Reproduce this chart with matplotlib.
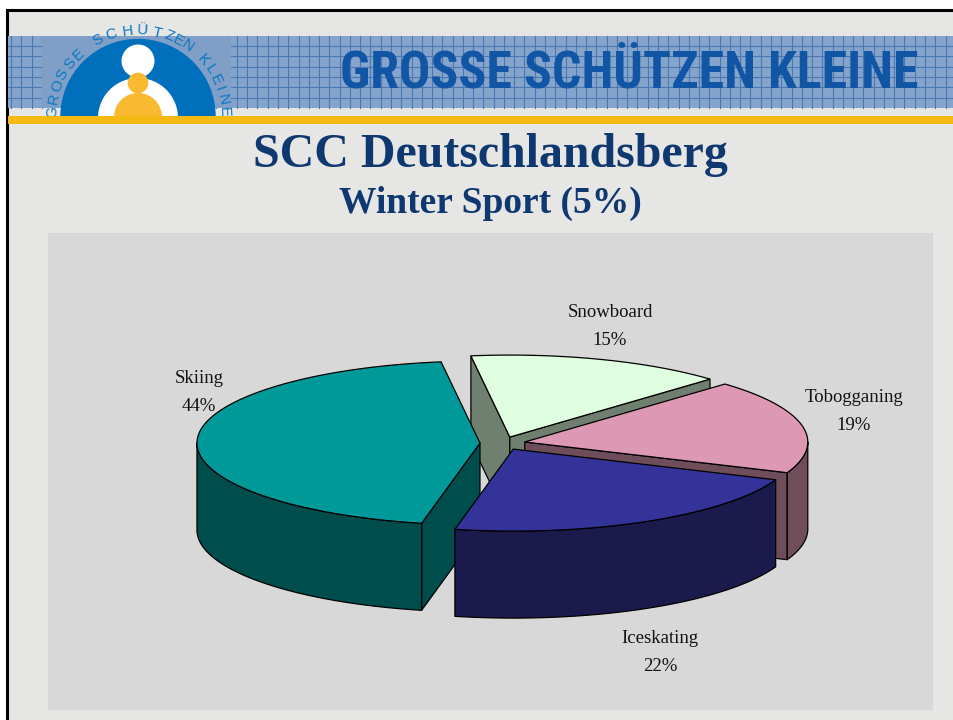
import numpy as np
import matplotlib
matplotlib.use('Agg')
import matplotlib.pyplot as plt
from matplotlib.patches import Circle, Polygon, Rectangle

# chart data, in the order it goes round the pie (clockwise)
slices = ['Snowboard', 'Tobogganing', 'Iceskating', 'Skiing']
shares = [14.7, 18.6, 22.2, 44.5]
shown_pct = ['15%', '19%', '22%', '44%']

top_colors = ['#e0ffe0', '#dd99b3', '#333399', '#009999']
wall_colors = ['#708070', '#6f4d5a', '#1a1a4d', '#004d4d']
label_pos = [(610, 326.5), (854, 411.5), (660, 652.5), (199, 392.5)]

header = 'GROSSE SCHÜTZEN KLEINE'
logo_letters = list('GROSSE') + list('SCHÜTZEN') + list('KLEINE')
logo_angles = [-87, -78, -69, -61, -52, -44,
               -28, -18, -7, 3, 13, 21, 28, 35,
               49, 57, 65, 71, 79, 87]

# pie geometry in pixels
cx, cy = 502.6, 443.3
rx, ry = 283, 82
depth = 87
explode = 0.08
start_angle = -7.9
draw_order = [0, 1, 3, 2]

fig = plt.figure(figsize=(9.54, 7.2), dpi=100, facecolor='white')
ax = fig.add_axes([0, 0, 1, 1])
ax.set_xlim(0, 954)
ax.set_ylim(720, 0)
ax.axis('off')

# slide background and border
ax.add_patch(Rectangle((7, 10), 950, 712, fc='#e6e6e4', ec='black', lw=2.2, zorder=1))

# checked header band
ax.add_patch(Rectangle((8, 36), 946, 72, fc='#85a4cb', ec='none', zorder=2))
for x in np.arange(11, 954, 10.27):
    ax.plot([x, x], [36, 108], color='#4a78b5', lw=0.8, zorder=3)
for y in np.arange(46, 108, 10.35):
    ax.plot([8, 954], [y, y], color='#4a78b5', lw=0.8, zorder=3)
ax.add_patch(Rectangle((42, 36), 189, 72, fc='#7f9fc8', ec='none', zorder=4))
ax.add_patch(Rectangle((8, 116), 946, 8, fc='#f5b914', ec='none', zorder=9))

# logo, cut off at the gold strip
clip = Rectangle((30, 20), 220, 96, transform=ax.transData)
logo = [Circle((138, 116.5), 77.7, fc='#0070bd', ec='none', zorder=5),
        Circle((138, 118), 40, fc='white', ec='none', zorder=6),
        Circle((138, 61), 16.5, fc='white', ec='none', zorder=6),
        Circle((138, 83), 10.3, fc='#f9b931', ec='none', zorder=7),
        Circle((138, 117), 24, fc='#f9b931', ec='none', zorder=7)]
for p in logo:
    ax.add_patch(p)
    p.set_clip_path(clip)
for ch, ang in zip(logo_letters, logo_angles):
    t = np.radians(ang)
    txt = ax.text(138 + 86 * np.sin(t), 116.5 - 86 * np.cos(t), ch, rotation=-ang,
                  rotation_mode='anchor', ha='center', va='center', fontsize=11,
                  family='Liberation Sans', color='#0a78c0', zorder=8)
    txt.set_clip_path(clip)

# titles
ax.text(629.5, 74, header, ha='center', va='center', fontsize=37.4, fontweight='bold',
        family=['Roboto Condensed', 'Roboto'], color='#1155a5', zorder=8)
ax.text(490, 155, 'SCC Deutschlandsberg', ha='center', va='center', fontsize=34.5,
        fontweight='bold', family='Liberation Serif', color='#0f3870', zorder=8)
ax.text(490, 203, 'Winter Sport (5%)', ha='center', va='center', fontsize=27,
        fontweight='bold', family='Liberation Serif', color='#0f3870', zorder=8)

# plot area
ax.add_patch(Rectangle((48, 233), 885, 477, fc='#d8d8d8', ec='none', zorder=2))


def rim(x0, y0, a0, a1):
    t = np.radians(np.linspace(a0, a1, 200))
    return x0 + rx * np.sin(t), y0 - ry * np.cos(t)


# angles come from the shares
edges = start_angle + np.cumsum([0] + shares) * 3.6

zo = 10
for i in draw_order:
    a0, a1 = edges[i], edges[i + 1]
    mid = np.radians((a0 + a1) / 2)
    x0 = cx + explode * rx * np.sin(mid)
    y0 = cy - explode * ry * np.cos(mid)
    style = dict(fc=wall_colors[i], ec='black', lw=0.9, joinstyle='round')

    # straight cut faces, only those turned towards the viewer
    for edge, normal in ((a0, a0 - 90), (a1, a1 + 90)):
        if np.cos(np.radians(normal)) < 0:
            ex, ey = rim(x0, y0, edge, edge)
            quad = [(x0, y0), (ex[0], ey[0]), (ex[0], ey[0] + depth), (x0, y0 + depth)]
            ax.add_patch(Polygon(quad, zorder=zo, **style))
            zo += 1

    # outer rim, front half only
    for lo, hi in ((90, 270), (450, 630)):
        f0, f1 = max(a0, lo), min(a1, hi)
        if f1 > f0:
            fx, fy = rim(x0, y0, f0, f1)
            pts = np.r_[np.c_[fx, fy], np.c_[fx[::-1], fy[::-1] + depth]]
            ax.add_patch(Polygon(pts, zorder=zo, **style))
            zo += 1

    # top face
    tx, ty = rim(x0, y0, a0, a1)
    pts = np.r_[[[x0, y0]], np.c_[tx, ty]]
    ax.add_patch(Polygon(pts, fc=top_colors[i], ec='black', lw=0.9, zorder=zo))
    zo += 1

for name, pct, (lx, ly) in zip(slices, shown_pct, label_pos):
    ax.text(lx, ly, name + '\n' + pct, ha='center', va='center', fontsize=13.5,
            family='Liberation Serif', color='#111111', linespacing=1.8, zorder=50)

fig.savefig('out.png', dpi=100)
